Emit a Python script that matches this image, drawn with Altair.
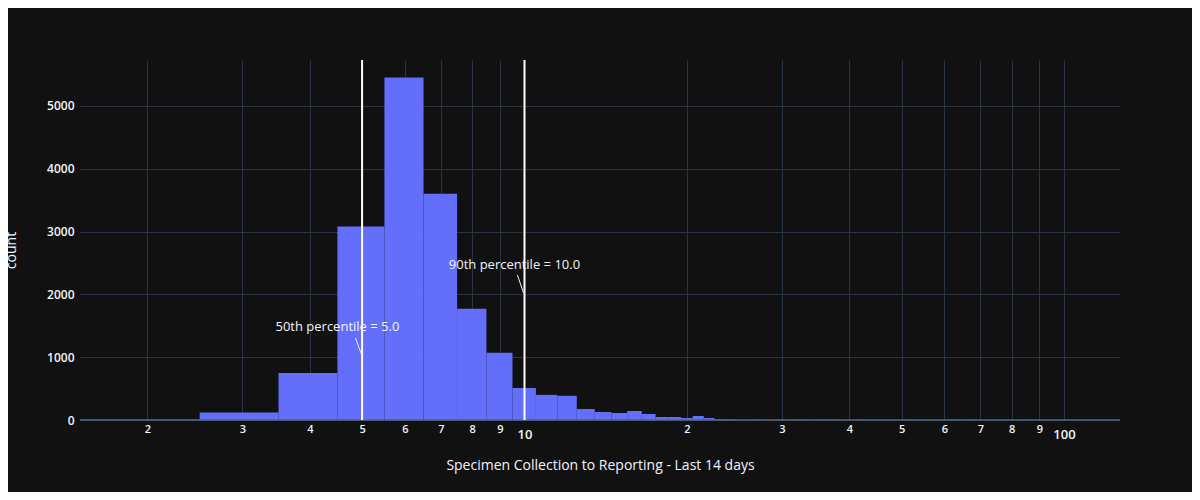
import altair as alt
import pandas as pd

values = [2, 3, 4, 5, 6, 7, 8, 9, 10, 11, 12, 13, 14, 15, 16, 17, 18, 19, 20, 21, 22, 23, 24,
          27, 30, 32, 33, 35, 36, 37, 38, 42, 51, 62, 64, 67, 86]
counts = [8, 120, 750, 3080, 5450, 3600, 1770, 1070, 510, 400, 385, 175, 127, 111, 143, 96, 48, 48,
          32, 64, 32, 10, 10, 6, 6, 8, 8, 8, 8, 8, 8, 6, 6, 6, 6, 6, 5]

df = pd.DataFrame({"lo": [v - 0.5 for v in values], "hi": [v + 0.5 for v in values], "count": counts})

ticks = [2, 3, 4, 5, 6, 7, 8, 9, 10, 20, 30, 40, 50, 60, 70, 80, 90, 100]
FONT = "Open Sans"
TXT = "#f2f5fa"
GRID = "#283442"

xscale = alt.Scale(type="log", domain=[1.5, 127], nice=False)
yscale = alt.Scale(domain=[0, 5730], nice=False)

bars = alt.Chart(df).mark_rect(color="#636efa", strokeWidth=0).encode(
    x=alt.X("lo:Q", scale=xscale, title="Specimen Collection to Reporting - Last 14 days",
            axis=alt.Axis(values=ticks, labelExpr="datum.value == 10 || datum.value == 100 ? datum.label : substring(datum.label, 0, 1)",
                          labelFontSize=alt.condition("datum.value == 10 || datum.value == 100", alt.value(13), alt.value(11)),
                          labelPadding=alt.condition("datum.value == 10 || datum.value == 100", alt.value(8), alt.value(3)),
                          gridColor=GRID, domain=False, ticks=False, labelColor=TXT, titleColor=TXT,
                          titleFontSize=14, titleFontWeight="normal", titleFont=FONT, labelFont=FONT,
                          titleY=38, labelFlush=False, labelFontWeight=600)),
    x2="hi:Q",
    y=alt.Y("count:Q", scale=yscale, title="count",
            axis=alt.Axis(values=[0, 1000, 2000, 3000, 4000, 5000], format="d", gridColor=GRID, domain=False, ticks=False,
                          labelColor=TXT, titleColor=TXT, labelFontSize=12, titleFontSize=14, labelFontWeight=600,
                          titleFontWeight="normal", titleFont=FONT, labelFont=FONT, labelPadding=6,
                          titleX=-62, titleY=190)),
)

zero = alt.Chart(pd.DataFrame({"y": [0]})).mark_rule(color="#506784", strokeWidth=1.5).encode(y=alt.Y("y:Q", scale=yscale))

pct = pd.DataFrame({"v": [5.0, 10.0]})
vlines = alt.Chart(pct).mark_rule(color="white", strokeWidth=2).encode(x=alt.X("v:Q", scale=xscale))

ann = pd.DataFrame({"tx": [4.5, 9.58], "ty": [1480, 2470],
                    "label": ["50th percentile = 5.0", "90th percentile = 10.0"],
                    "ax": [4.86, 9.70], "ay": [1306, 2309], "bx": [5.0, 9.96], "by": [1019, 2022]})
texts = alt.Chart(ann).mark_text(color=TXT, font=FONT, fontSize=13).encode(
    x=alt.X("tx:Q", scale=xscale), y=alt.Y("ty:Q", scale=yscale), text="label:N")
arrows = alt.Chart(ann).mark_rule(color=TXT, strokeWidth=1).encode(
    x=alt.X("ax:Q", scale=xscale), x2="bx:Q", y=alt.Y("ay:Q", scale=yscale), y2="by:Q")

chart = alt.layer(bars, zero, vlines, arrows, texts).properties(
    width=1040, height=360, background="#111111",
    padding={"left": 72, "top": 52, "right": 72, "bottom": 72},
    autosize=alt.AutoSizeParams(type="none"),
).configure_view(stroke=None)

chart.save("out.html", embed_options={"renderer": "svg", "actions": False})
